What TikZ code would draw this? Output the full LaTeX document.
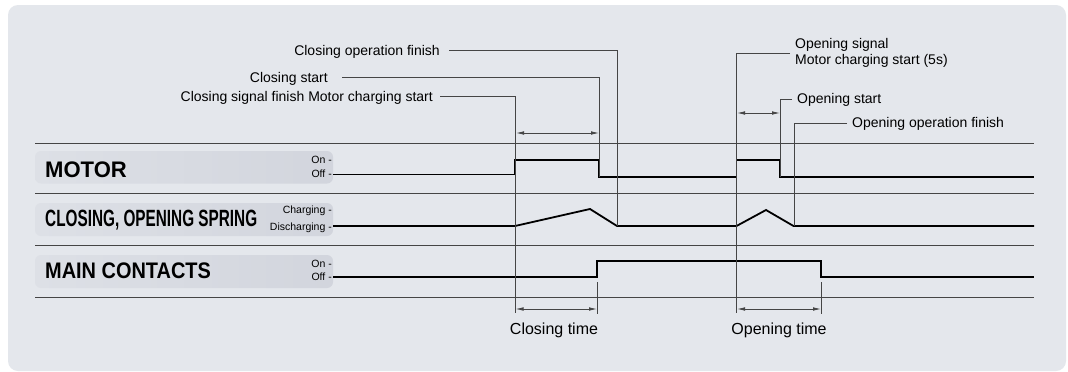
\documentclass[tikz,border=0pt]{standalone}
\usepackage{fontspec}
\usepackage{graphicx}
\setmainfont{Liberation Sans}
\usetikzlibrary{arrows.meta}
\definecolor{panel}{HTML}{E4E7EC}
\definecolor{labl}{HTML}{DDE0E6}
\definecolor{labr}{HTML}{D2D5DD}
\definecolor{thin}{HTML}{454545}
\begin{document}
\begin{tikzpicture}[x=1pt,y=-1pt,
  thinl/.style={draw=thin,line width=0.8pt},
  sig/.style={draw=black,line width=1.8pt,line join=miter},
  callout/.style={font=\fontsize{14}{16}\selectfont,inner sep=0pt,text height=10pt,text depth=1pt},
  bottomlab/.style={font=\fontsize{16}{18}\selectfont,inner sep=0pt,anchor=base},
  level/.style={font=\fontsize{10.5}{12}\selectfont,inner sep=0pt,anchor=base east},
  rowname/.style={font=\bfseries\fontsize{22.5}{24}\selectfont,inner sep=0pt,anchor=base west},
  labbox/.style={left color=labl,right color=labr,rounded corners=6pt},
  dim/.style={thinl,{Latex[length=8pt,width=3.6pt]}-{Latex[length=8pt,width=3.6pt]}}]
\useasboundingbox (0,0) rectangle (1068,372);
\fill[white] (0,0) rectangle (1068,372);
\fill[panel,rounded corners=10pt] (8,5) rectangle (1066,371);

% label boxes
\path[labbox] (35,151) rectangle (333,183.5);
\path[labbox] (35,203) rectangle (333,236);
\path[labbox] (35,255) rectangle (333,288);

% row separators
\foreach \yy in {143,193,245,297} \draw[thinl] (35,\yy) -- (1034,\yy);

% row names
\node[rowname] (motor) at (45,177) {\scalebox{0.98}[1]{MOTOR}};
\node[rowname] (spring) at (45,226.7) {\scalebox{0.652}[1]{\fontsize{23.5}{25}\selectfont CLOSING, OPENING SPRING}};
\node[rowname] (main) at (45,278) {\scalebox{0.886}[1]{MAIN CONTACTS}};

% level labels
\node[level] (mon) at (332,163) {On -};
\node[level] (moff) at (332,177) {Off -};
\node[level] (scha) at (332,213) {Charging -};
\node[level] (sdis) at (332,230) {Discharging -};
\node[level] (con) at (332,267) {On -};
\node[level] (coff) at (332,280.5) {Off -};

% signals
\draw[sig] (333,174.5) -- (515,174.5) -- (515,160) -- (599,160) -- (599,177) -- (736.5,177) -- (736.5,160) -- (780,160) -- (780,177) -- (1034,177);
\draw[sig] (333,226) -- (515,226) -- (590,209) -- (617,226) -- (736.5,226) -- (766,210) -- (793.5,226) -- (1034,226);
\draw[sig] (333,277) -- (597,277) -- (597,261) -- (821,261) -- (821,277) -- (1034,277);

% callout coordinates
\coordinate (vcsig) at (515,313);
\coordinate (vcst) at (599.5,177);
\coordinate (vcof) at (617,226);
\coordinate (vosig) at (736.5,313);
\coordinate (vost) at (780,177);
\coordinate (voof) at (794,226);
\coordinate (tkc1) at (597,282);
\coordinate (tkc2) at (597,314);
\coordinate (tko1) at (821,282);
\coordinate (tko2) at (821,314);

% callouts
\node[callout,anchor=base east] (cof) at (440,55.2) {Closing operation finish};
\draw[thinl] ([xshift=9pt]cof.east) -| (vcof);
\node[callout,anchor=base east] (cst) at (328,82.2) {Closing start};
\draw[thinl] ([xshift=14pt]cst.east) -| (vcst);
\node[callout,anchor=base east] (csig) at (433,101.2) {Closing signal finish Motor charging start};
\draw[thinl] ([xshift=7pt]csig.east) -| (vcsig);

\node[callout,anchor=west,align=left,text height=,text depth=] (osig) at (795,53) {Opening signal\\Motor charging start (5s)};
\draw[thinl] ([xshift=-5pt]osig.west) -| (vosig);
\node[callout,anchor=base west] (ost) at (797,103.5) {Opening start};
\draw[thinl] ([xshift=-5pt]ost.west) -| (vost);
\node[callout,anchor=base west] (oof) at (852,127.5) {Opening operation finish};
\draw[thinl] ([xshift=-5pt]oof.west) -| (voof);

% dimension arrows top
\coordinate (ac1) at (516,133);
\coordinate (ac2) at (599,133);
\draw[dim] (ac1) -- (ac2);
\coordinate (ao1) at (737,113);
\coordinate (ao2) at (780,113);
\draw[dim] (ao1) -- (ao2);

% ticks
\draw[thinl] (tkc1) -- (tkc2);
\draw[thinl] (tko1) -- (tko2);

% bottom dimensions
\coordinate (bc1) at (515.5,309);
\coordinate (bc2) at (597,309);
\draw[dim] (bc1) -- (bc2);
\coordinate (bo1) at (737,309);
\coordinate (bo2) at (821,309);
\draw[dim] (bo1) -- (bo2);

\node[bottomlab] (ctime) at (554,334) {Closing time};
\node[bottomlab] (otime) at (779,334) {Opening time};
\end{tikzpicture}
\end{document}
